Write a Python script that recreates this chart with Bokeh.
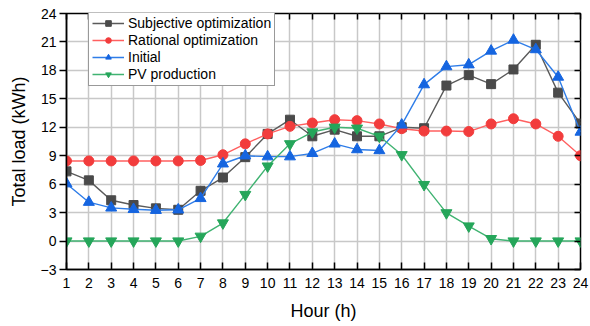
from bokeh.plotting import figure
from bokeh.models import FixedTicker, LinearAxis, Range1d, Legend, LegendItem
from bokeh.embed import file_html
from bokeh.resources import INLINE

hours = list(range(1, 25))
subjective = [7.35, 6.4, 4.3, 3.8, 3.45, 3.3, 5.3, 6.7, 8.85, 11.3, 12.8, 11.05,
              11.75, 11.05, 11.05, 12.0, 11.9, 16.4, 17.5, 16.55, 18.1, 20.7, 15.65, 12.4]
rational = [8.45, 8.45, 8.45, 8.45, 8.45, 8.45, 8.5, 9.1, 10.25, 11.3, 12.1, 12.45,
            12.8, 12.7, 12.35, 11.85, 11.6, 11.6, 11.55, 12.35, 12.9, 12.35, 11.05, 9.0]
initial = [6.05, 4.1, 3.5, 3.35, 3.25, 3.3, 4.5, 8.15, 9.0, 8.9, 8.9, 9.25,
           10.25, 9.65, 9.55, 12.25, 16.5, 18.4, 18.6, 20.05, 21.2, 20.2, 17.3, 11.5]
pv = [0, 0, 0, 0, 0, 0, 0.5, 1.9, 4.9, 7.9, 10.25, 11.5,
      12.0, 11.9, 11.05, 9.1, 5.95, 2.97, 1.58, 0.25, 0, 0, 0, 0]
y_ticks = [-3, 0, 3, 6, 9, 12, 15, 18, 21, 24]

FONT = "Liberation Sans"

p = figure(width=590, height=326, x_range=Range1d(1, 24), y_range=Range1d(-3, 24),
           output_backend="svg", toolbar_location=None,
           min_border_left=66, min_border_right=10, min_border_top=13, min_border_bottom=57)
p.background_fill_color = "white"
p.border_fill_color = "white"
p.outline_line_color = "black"
p.outline_line_width = 1.5

# extra axes (top/right) with inward ticks, no labels
top = LinearAxis()
right = LinearAxis()
p.add_layout(top, "above")
p.add_layout(right, "right")

for ax in p.xaxis:
    ax.ticker = FixedTicker(ticks=hours)
for ax in p.yaxis:
    ax.ticker = FixedTicker(ticks=y_ticks)

for ax in [top, right]:
    ax.major_label_text_font_size = "1px"
    ax.major_label_text_color = None
    ax.major_label_standoff = 0
    ax.major_tick_in = 6
    ax.major_tick_out = 0
    ax.major_tick_line_width = 1.5
    ax.minor_tick_line_color = None
    ax.axis_line_color = None

bx = p.below[0]
ly = p.left[0]
for ax in [bx, ly]:
    ax.major_label_text_font = FONT
    ax.major_label_text_font_size = "14px"
    ax.major_label_text_color = "black"
    ax.axis_label_text_font = FONT
    ax.axis_label_text_font_size = "18px"
    ax.axis_label_text_font_style = "normal"
    ax.axis_label_text_color = "black"
    ax.minor_tick_line_color = None
    ax.axis_line_width = 1.5
    ax.major_tick_line_width = 1.5
    ax.axis_line_color = "black"
    ax.major_tick_line_color = "black"

bx.axis_label = "Hour (h)"
bx.major_tick_in = 7
bx.major_tick_out = 0
bx.major_label_standoff = 8
bx.axis_label_standoff = 10

ly.axis_label = "Total load (kWh)"
ly.major_tick_in = 0
ly.major_tick_out = 7
ly.major_label_standoff = 3
ly.axis_label_standoff = 9

p.xgrid.grid_line_color = "#c8c8c8"
p.ygrid.grid_line_color = "#c8c8c8"
p.xgrid.grid_line_width = 1.5
p.ygrid.grid_line_width = 1.5

series = [
    ("Subjective optimization", subjective, "#5a5a5a", "#4a4a4a", "square", 9),
    ("Rational optimization", rational, "#ff6060", "#f23c3c", "circle", 10),
    ("Initial", initial, "#2f7de8", "#1565e0", "triangle", 11),
    ("PV production", pv, "#40b372", "#25a65a", "inverted_triangle", 11),
]

items = []
for name, ys, lc, mc, marker, sz in series:
    l = p.line(hours, ys, line_color=lc, line_width=1.4)
    s = p.scatter(hours, ys, marker=marker, size=sz, fill_color=mc, line_color=mc)
    items.append(LegendItem(label=name, renderers=[l, s]))

legend = Legend(items=items, location=(22, 183))
legend.label_text_font = FONT
legend.label_text_font_size = "14px"
legend.label_text_color = "black"
legend.label_height = 14
legend.glyph_height = 14
legend.glyph_width = 32
legend.spacing = 1
legend.padding = 3
legend.margin = 0
legend.label_standoff = 4
legend.border_line_color = "#333333"
legend.border_line_width = 1
legend.background_fill_color = "white"
legend.background_fill_alpha = 1.0
p.add_layout(legend, "center")

open("out.html", "w").write(file_html(p, INLINE))
